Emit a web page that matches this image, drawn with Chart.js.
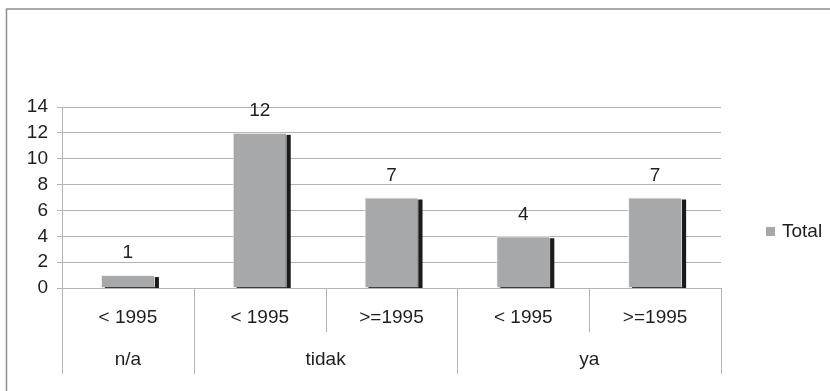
<!DOCTYPE html>
<html>
<head>
<meta charset="utf-8">
<script src="https://cdn.jsdelivr.net/npm/chart.js@4/dist/chart.umd.min.js"></script>
<style>
  html, body { margin: 0; padding: 0; background: #ffffff; }
  #wrap { width: 830px; height: 391px; position: relative; }
</style>
</head>
<body>
<div id="wrap"><canvas id="c" width="830" height="391"></canvas></div>
<script>
// Sub-category labels (first row of the x axis), one per bar
const subLabels = ['< 1995', '< 1995', '>=1995', '< 1995', '>=1995'];
// Outer grouping (second row of the x axis) and how many bars each group covers
const groupLabels = ['n/a', 'tidak', 'ya'];
const groupSizes = [1, 2, 2];
// Series values
const seriesName = 'Total';
const totals = [1, 12, 7, 4, 7];
// Value axis ticks
const yMin = 0, yMax = 14, yStep = 2;

const FONT = '"Liberation Sans", Arial, sans-serif';
const FS = 19;
const TEXT = '#1e1e1e';
const GRID = '#b3b3b3';
const BAR = '#a7a8aa';
const SHADOW = '#1b1b1b';

// Dark drop shadow to the lower right of every bar
const barShadow = {
  id: 'barShadow',
  beforeDatasetDraw(chart, args) {
    const { ctx, chartArea } = chart;
    const meta = args.meta;
    ctx.save();
    ctx.beginPath();
    ctx.rect(chartArea.left, chartArea.top - 20, chartArea.right - chartArea.left, chartArea.bottom - chartArea.top + 20);
    ctx.clip();
    ctx.fillStyle = SHADOW;
    meta.data.forEach(bar => {
      const p = bar.getProps(['x', 'y', 'base', 'width'], true);
      const left = p.x - p.width / 2;
      ctx.fillRect(left + 4, p.y + 2, p.width, p.base - p.y);
    });
    ctx.restore();
  }
};

// Value labels above bars, grouped category row, separators, legend, frame
const decorations = {
  id: 'decorations',
  afterDraw(chart) {
    const { ctx, chartArea } = chart;
    const xs = chart.scales.x;
    const meta = chart.getDatasetMeta(0);
    ctx.save();

    // value labels
    ctx.font = FS + 'px ' + FONT;
    ctx.fillStyle = TEXT;
    ctx.textAlign = 'center';
    ctx.textBaseline = 'middle';
    meta.data.forEach((bar, i) => {
      ctx.fillText(String(totals[i]), bar.x, bar.y - 22);
    });

    // separators below the axis
    const half = (xs.getPixelForValue(1) - xs.getPixelForValue(0)) / 2;
    const bottom = chartArea.bottom;
    const groupStarts = new Set();
    let idx = 0;
    groupSizes.forEach(n => { groupStarts.add(idx); idx += n; });
    groupStarts.add(idx);
    ctx.strokeStyle = GRID;
    ctx.lineWidth = 1;
    for (let i = 0; i <= subLabels.length; i++) {
      const x = Math.round(xs.getPixelForValue(i) - half) + 0.5;
      const y2 = groupStarts.has(i) ? bottom + 86 : bottom + 44;
      ctx.beginPath();
      ctx.moveTo(x, bottom);
      ctx.lineTo(x, y2);
      ctx.stroke();
    }

    // group labels
    ctx.fillStyle = TEXT;
    idx = 0;
    groupLabels.forEach((g, k) => {
      const first = xs.getPixelForValue(idx) - half;
      const last = xs.getPixelForValue(idx + groupSizes[k] - 1) + half;
      ctx.fillText(g, (first + last) / 2, bottom + 72);
      idx += groupSizes[k];
    });

    // legend
    ctx.fillStyle = BAR;
    ctx.fillRect(766, 227, 9, 9);
    ctx.fillStyle = TEXT;
    ctx.textAlign = 'left';
    ctx.fillText(seriesName, 782, 231.5);

    // outer frame (top and left edges)
    ctx.strokeStyle = '#8f8f8f';
    ctx.lineWidth = 1.5;
    ctx.beginPath();
    ctx.moveTo(6.5, 391);
    ctx.lineTo(6.5, 9);
    ctx.lineTo(830, 9);
    ctx.stroke();
    ctx.restore();
  }
};

new Chart(document.getElementById('c'), {
  type: 'bar',
  data: {
    labels: subLabels,
    datasets: [{
      label: seriesName,
      data: totals,
      backgroundColor: BAR,
      borderColor: '#f2f2f2',
      borderWidth: 1,
      borderSkipped: 'start',
      categoryPercentage: 1,
      barPercentage: 0.41
    }]
  },
  options: {
    responsive: false,
    animation: false,
    events: [],
    layout: { padding: { left: 0, top: 107, right: 109, bottom: 17 } },
    plugins: { legend: { display: false }, tooltip: { enabled: false } },
    scales: {
      y: {
        min: yMin, max: yMax,
        afterFit(s) { s.width = 62; },
        ticks: { stepSize: yStep, padding: 9, color: TEXT, font: { family: FONT, size: FS } },
        grid: { color: GRID, tickLength: 5, drawTicks: true, tickColor: GRID },
        border: { color: GRID }
      },
      x: {
        afterFit(s) { s.height = 86; },
        ticks: { padding: 18, color: TEXT, font: { family: FONT, size: FS }, maxRotation: 0, autoSkip: false },
        grid: { display: false, drawTicks: false },
        border: { color: GRID }
      }
    }
  },
  plugins: [barShadow, decorations]
});
</script>
</body>
</html>
